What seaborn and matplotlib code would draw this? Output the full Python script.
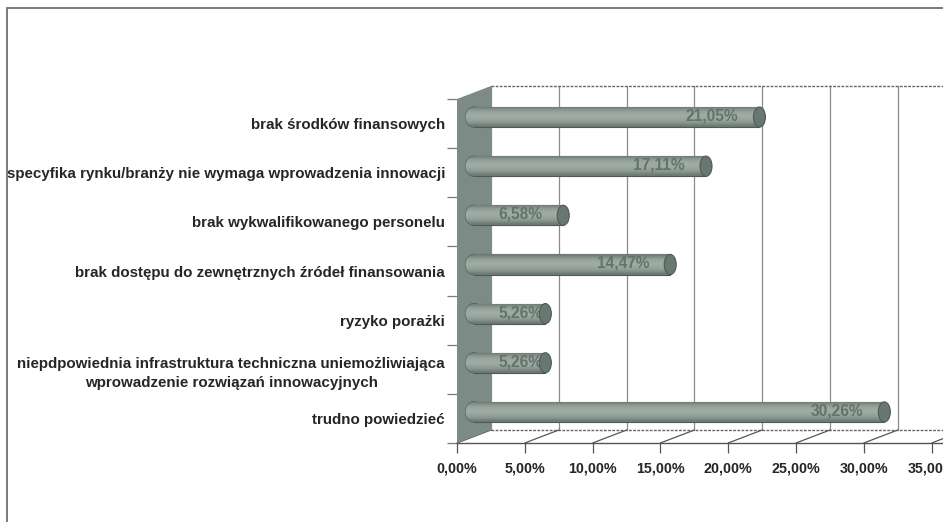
import numpy as np
import seaborn as sns
import matplotlib
matplotlib.use("Agg")
import matplotlib.pyplot as plt
from matplotlib.patches import Ellipse, Polygon

categories = [
    "brak środków finansowych",
    "specyfika rynku/branży nie wymaga wprowadzenia innowacji",
    "brak wykwalifikowanego personelu",
    "brak dostępu do zewnętrznych źródeł finansowania",
    "ryzyko porażki",
    "niepdpowiednia infrastruktura techniczna uniemożliwiająca\nwprowadzenie rozwiązań innowacyjnych",
    "trudno powiedzieć",
]
values = [21.05, 17.11, 6.58, 14.47, 5.26, 5.26, 30.26]
x_ticks = [0, 5, 10, 15, 20, 25, 30, 35]

WALL = "#7c8b85"
BODY = "#8f9d97"
CAP = "#68776f"
EDGE = "#4f5a55"
LINE = "#7a7a7a"
TEXT = "#262626"

W, H = 943, 522
PX_X = 13.56   # pixels per percent
PX_Y = 49.14   # pixels per category
DX = 34 / PX_X  # depth of the 3d box
DY = 13 / PX_Y

sns.set_style("white")
plt.rcParams["font.family"] = ["Liberation Sans", "DejaVu Sans"]

fig = plt.figure(figsize=(W / 100, H / 100), dpi=100)
ax = fig.add_axes([457 / W, 79 / H, (W - 457) / W, 344 / H])

sns.barplot(x=values, y=categories, orient="h", color=BODY, width=0.41,
            saturation=1, ax=ax, zorder=4, edgecolor=EDGE, linewidth=0.8)
ax.set_xlim(0, (W - 457) / PX_X)
ax.set_ylim(6.5, -0.5)

# back wall and floor
ax.add_patch(Polygon([(0, 6.5), (DX, 6.5 - DY), (DX, -0.5 - DY), (0, -0.5)],
                     closed=True, color=WALL, zorder=2, clip_on=False, lw=0))
for t in x_ticks:
    ax.plot([t + DX, t + DX], [6.5 - DY, -0.5 - DY], color="#8a8a8a", lw=0.9,
            zorder=1, clip_on=False)
    ax.plot([t, t + DX], [6.5, 6.5 - DY], color="#555555", lw=0.9, zorder=1,
            clip_on=False)
ax.plot([DX, 40], [-0.5 - DY, -0.5 - DY], color="#666666", lw=1, ls=(0, (2, 1)),
        zorder=1, clip_on=False)
ax.plot([DX, 40], [6.5 - DY, 6.5 - DY], color="#666666", lw=1, ls=(0, (2, 1)),
        zorder=1, clip_on=False)

# cylinders: shift bars to middle depth, shade them, add the round ends
shade = np.array([0.15, 0.7, 0.9, 1.0, 0.95, 0.8, 0.6, 0.1]).reshape(-1, 1)
cmap = matplotlib.colors.LinearSegmentedColormap.from_list("cyl", ["#6a7771", "#a0ada7"])
cap_w = 12 / PX_X
start_w = 17 / PX_X
bars = [b for b in ax.patches if not isinstance(b, Polygon)]
for i, (bar, v) in enumerate(zip(bars, values)):
    bar.set_x(bar.get_x() + DX / 2)
    bar.set_y(bar.get_y() - DY / 2)
    bar.set_clip_on(False)
    yc = i - DY / 2
    x0 = DX / 2
    x1 = x0 + v
    h = bar.get_height()
    start = Ellipse((x0, yc), start_w, h, facecolor=BODY, edgecolor=EDGE, lw=0.8,
                    zorder=3.5, clip_on=False)
    ax.add_patch(start)
    for clip, ext in ((start, (x0 - start_w, x0 + 0.05)), (bar, (x0, x1))):
        im = ax.imshow(shade, cmap=cmap, aspect="auto", interpolation="bicubic",
                       extent=(ext[0], ext[1], yc + h / 2, yc - h / 2), zorder=4.2)
        im.set_clip_path(clip)
    ax.add_patch(Ellipse((x1, yc), cap_w, h, facecolor=CAP, edgecolor=EDGE, lw=0.8,
                         zorder=6, clip_on=False))
    # small bars keep their label at the same place, the cap covers a bit of it
    ax.annotate(f"{v:.2f}%".replace(".", ","), (x0 + max(v, 6.58), yc), xytext=(-21, 1),
                textcoords="offset pixels", ha="right", va="center", fontsize=11.2,
                fontweight="bold", color="#64726c", zorder=5)
ax.set_xlim(0, (W - 457) / PX_X)
ax.set_ylim(6.5, -0.5)

# axes
sns.despine(ax=ax, left=True, top=True, right=True, bottom=False)
ax.spines["bottom"].set_color("#555555")
ax.spines["bottom"].set_linewidth(1)
ax.set_xticks(x_ticks)
ax.set_xticklabels([f"{t:.2f}%".replace(".", ",") for t in x_ticks], fontsize=10.3,
                   fontweight="bold", color=TEXT)
ax.set_yticks(range(len(categories)))
ax.set_yticklabels(categories, fontsize=10.9, fontweight="bold", color=TEXT,
                   multialignment="center", linespacing=1.45)
ax.set_yticks(np.arange(-0.5, 7), minor=True)
ax.tick_params(axis="y", which="major", length=0, pad=8.6)
ax.tick_params(axis="y", which="minor", length=7.2, width=0.9, color=LINE, left=True)
ax.tick_params(axis="x", length=7.2, width=0.9, color="#555555", pad=6, bottom=True)
ax.set_xlabel("")
ax.set_ylabel("")
ax.grid(False)

# scanned page frame
fig.add_artist(plt.Line2D([7 / W, 7 / W], [0, 1 - 8 / H], color=LINE, lw=1.4))
fig.add_artist(plt.Line2D([7 / W, 1], [1 - 8 / H, 1 - 8 / H], color=LINE, lw=1.4))

fig.savefig("out.png", dpi=100)
plt.close(fig)
